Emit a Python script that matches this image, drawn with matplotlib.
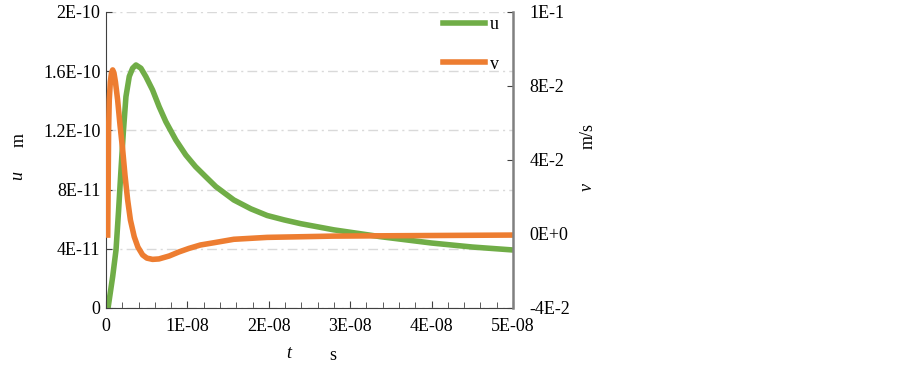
import numpy as np
import matplotlib
matplotlib.use('Agg')
import matplotlib.pyplot as plt
from matplotlib.ticker import MultipleLocator

plt.rcParams['font.family'] = ['Liberation Serif', 'DejaVu Serif']
plt.rcParams['mathtext.fontset'] = 'custom'
plt.rcParams['mathtext.it'] = 'Liberation Serif:italic'

# datos (t en ns)
t_u_ns = [0.25, 0.82, 1.23, 1.55, 1.84, 2.12, 2.45, 2.86, 3.27, 3.68, 4.29, 4.9, 5.72,
          6.53, 7.35, 8.58, 9.8, 11.0, 12.25, 13.5, 15.7, 17.8, 19.8, 21.9, 23.9,
          28.0, 33.7, 40.0, 45.0, 50.0]
u_e11 = [0.0, 2.12, 3.92, 6.62, 9.32, 11.8, 14.28, 15.65, 16.2, 16.42, 16.2, 15.63, 14.73,
         13.6, 12.59, 11.35, 10.34, 9.55, 8.87, 8.2, 7.3, 6.7, 6.25, 5.95, 5.7,
         5.28, 4.82, 4.39, 4.12, 3.92]

t_v_ns = [0.21, 0.27, 0.32, 0.40, 0.53, 0.67, 0.82, 0.98, 1.16, 1.43, 1.72, 2.05, 2.33,
          2.66, 3.0, 3.47, 3.92, 4.5, 5.02, 5.72, 6.5, 7.76, 8.95, 10.2, 11.6, 13.3,
          15.7, 19.8, 27.9, 36.2, 50.0]
v_e2 = [-0.55, 2.05, 4.42, 5.84, 6.69, 7.11, 7.26, 7.11, 6.69, 5.84, 4.66, 3.47, 2.29,
        1.11, 0.16, -0.63, -1.12, -1.49, -1.64, -1.70, -1.68, -1.54, -1.35, -1.18, -1.02, -0.91,
        -0.75, -0.66, -0.60, -0.58, -0.55]

u_ticks = [0, 4e-11, 8e-11, 1.2e-10, 1.6e-10, 2e-10]
u_ticklabels = ['0', '4E-11', '8E-11', '1.2E-10', '1.6E-10', '2E-10']
v_ticks = list(np.linspace(-0.04, 0.1, 5))
v_ticklabels = ['-4E-2', '0E+0', '4E-2', '8E-2', '1E-1']
t_ticks = [0, 1e-8, 2e-8, 3e-8, 4e-8, 5e-8]
t_ticklabels = ['0', '1E-08', '2E-08', '3E-08', '4E-08', '5E-08']

t_u = np.array(t_u_ns) * 1e-9
u = np.array(u_e11) * 1e-11
t_v = np.array(t_v_ns) * 1e-9
v = np.array(v_e2) * 1e-2

fig = plt.figure(figsize=(9.03, 3.67), dpi=100)
ax = fig.add_axes([106 / 903, 1 - 308 / 367, 407 / 903, 296 / 367])
ax2 = ax.twinx()

lu, = ax.plot(t_u, u, color='#70ad47', linewidth=4.0, label='u', solid_joinstyle='round')
lv, = ax2.plot(t_v, v, color='#ed7d31', linewidth=4.0, label='v', solid_joinstyle='round')

ax.set_xlim(0, 5e-8)
ax.set_ylim(0, 2e-10)
ax2.set_ylim(-0.04, 0.1)

ax.set_xticks(t_ticks)
ax.set_xticklabels(t_ticklabels)
ax.xaxis.set_minor_locator(MultipleLocator(2e-9))
ax.set_yticks(u_ticks)
ax.set_yticklabels(u_ticklabels)
ax2.set_yticks(v_ticks)
ax2.set_yticklabels(v_ticklabels)

ax.grid(axis='y', color='#d9d9d9', linewidth=1.0, linestyle=(0, (7, 3, 1.5, 3)))
ax.set_axisbelow(True)

for a in (ax, ax2):
    a.spines['top'].set_visible(False)
ax.spines['right'].set_visible(False)
ax2.spines['left'].set_visible(False)
ax2.spines['bottom'].set_visible(False)
ax.spines['left'].set_color('#404040')
ax.spines['bottom'].set_color('#404040')
ax2.spines['right'].set_color('#808080')
ax2.spines['right'].set_linewidth(1.8)

ax.tick_params(axis='x', which='major', direction='in', length=5, color='#404040',
               labelsize=13, pad=7)
ax.tick_params(axis='x', which='minor', direction='in', length=4, color='#404040')
ax.tick_params(axis='y', direction='in', length=4, color='#404040', labelsize=13, pad=4)
ax2.tick_params(axis='y', direction='in', length=4, color='#404040', labelsize=13, pad=12)

# etiquetas de ejes
fig.text(19 / 903, 1 - 176 / 367, r'$u$', rotation=90, ha='center', va='center', fontsize=13)
fig.text(19 / 903, 1 - 140 / 367, 'm', rotation=90, ha='center', va='center', fontsize=13)
fig.text(588 / 903, 1 - 187 / 367, r'$v$', rotation=90, ha='center', va='center', fontsize=13)
fig.text(588 / 903, 1 - 136 / 367, 'm/s', rotation=90, ha='center', va='center', fontsize=13)
fig.text(290 / 903, 1 - 354 / 367, r'$t$', ha='center', va='center', fontsize=13)
fig.text(333 / 903, 1 - 355 / 367, 's', ha='center', va='center', fontsize=13)

ax2.legend(handles=[lu, lv], loc='upper left', bbox_to_anchor=(337 / 407, 1 - 4 / 296),
           frameon=False, fontsize=13, handlelength=2.3, handletextpad=0.3,
           labelspacing=1.25, borderaxespad=0.0, borderpad=0.0)

fig.savefig('out.png', dpi=100)
